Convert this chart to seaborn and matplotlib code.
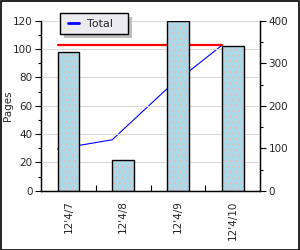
import numpy as np
import pandas as pd
import matplotlib
matplotlib.use("Agg")
import matplotlib.pyplot as plt
import seaborn as sns
from matplotlib.patches import Rectangle
from matplotlib.ticker import MultipleLocator, FixedLocator

# ---- data ----
dates = ["12'4/7", "12'4/8", "12'4/9", "12'4/10"]
pages = [98, 22, 120, 102]
series_label = "Total"
left_ticks = [0, 20, 40, 60, 80, 100, 120]
right_ticks = [0, 100, 200, 300, 400]

cumulative = np.cumsum(pages)
total = cumulative[-1]

sns.set_theme(style="white")
plt.rcParams["font.family"] = ["DejaVu Sans"]
plt.rcParams["hatch.linewidth"] = 0.6

W, H = 300, 250
fig = plt.figure(figsize=(3.0, 2.5), dpi=100)
fig.patch.set_facecolor("white")
fig.patches.append(Rectangle((0.002, 0.002), 0.993, 0.994, transform=fig.transFigure,
                             fill=False, ec="black", lw=1.2))

# host axes: lines (right scale); twin axes on top: bars (left scale)
axL = fig.add_axes([0.137, 0.237, 0.730, 0.680])
axB = axL.twinx()
axL.patch.set_facecolor("white")
axB.patch.set_visible(False)
axL.set_zorder(0)
axB.set_zorder(2)

bw = 0.4
xpos = np.arange(len(dates)) - bw / 2
line_df = pd.DataFrame({"x": xpos, "cum": cumulative})
sns.lineplot(data=line_df, x="x", y="cum", ax=axL, color="blue", lw=0.8, label=series_label)
axL.plot([xpos[0], xpos[-1]], [total, total], color="red", lw=1.6)
h, l = axL.get_legend_handles_labels()
if axL.get_legend():
    axL.get_legend().remove()

df = pd.DataFrame({"date": dates, "pages": pages})
sns.barplot(data=df, x="date", y="pages", ax=axB, color="#add8e6", saturation=1,
            width=bw, edgecolor="#eeb8b8", linewidth=0)
for p in list(axB.patches):
    p.set_hatch("...")
    p.set_edgecolor("#eeb8b8")
    axB.add_patch(Rectangle(p.get_xy(), p.get_width(), p.get_height(), fill=False,
                            ec="black", lw=1.0, zorder=3))

axB.set_xlim(-0.5, len(dates) - 0.5)
axB.set_ylim(0, 120)
axL.set_ylim(0, 400)

# bars' scale on the left, lines' scale on the right
axB.yaxis.set_label_position("left")
axB.yaxis.tick_left()
axL.yaxis.set_label_position("right")
axL.yaxis.tick_right()
axB.xaxis.set_visible(True)

axB.set_yticks(left_ticks)
axB.yaxis.set_minor_locator(MultipleLocator(10))
axL.set_yticks(right_ticks)
axL.yaxis.set_minor_locator(MultipleLocator(50))
axB.xaxis.set_minor_locator(FixedLocator([0.5, 1.5, 2.5]))
axL.tick_params(axis="x", which="both", bottom=False, labelbottom=False)

axB.grid(axis="y", color="#d8d8d8", lw=0.8)
axB.set_axisbelow(True)

fs = 7.5
axB.set_xlabel("")
axL.set_xlabel("")
axL.set_ylabel("")
axB.set_ylabel("Pages", fontsize=fs, labelpad=0)
axB.tick_params(axis="x", which="major", length=0, pad=7, labelsize=fs, labelrotation=90,
                labelbottom=True)
axB.tick_params(axis="x", which="minor", direction="in", length=4.3, width=0.8, color="black", bottom=True)
axB.tick_params(axis="y", which="major", direction="out", length=4, width=0.8, color="black",
                labelsize=fs, pad=2, left=True, right=False)
axB.tick_params(axis="y", which="minor", direction="out", length=2.5, width=0.8, color="black",
                left=True, right=False)
axL.tick_params(axis="y", which="major", direction="out", length=4, width=0.8, color="black",
                labelsize=fs, pad=2, right=True, left=False)
axL.tick_params(axis="y", which="minor", direction="out", length=2.5, width=0.8, color="black",
                right=True, left=False)

for a in (axL, axB):
    for s in ["left", "right", "bottom"]:
        a.spines[s].set_visible(True)
        a.spines[s].set_color("black")
        a.spines[s].set_linewidth(0.9)
    a.spines["top"].set_visible(False)

# legend box with drop shadow (figure-level so it sits above both axes)
fig.patches.append(Rectangle((64 / W, 1 - 38 / H), 68 / W, 21 / H, transform=fig.transFigure,
                             fc="#c0c0c0", ec="none", zorder=3))
fig.patches.append(Rectangle((60 / W, 1 - 34 / H), 68 / W, 21 / H, transform=fig.transFigure,
                             fc="#ecebf0", ec="black", lw=1.0, zorder=4))
leg = fig.legend(h, l, loc="center left", bbox_to_anchor=(68 / W, 1 - 24 / H),
                 bbox_transform=fig.transFigure, fontsize=8, frameon=False,
                 handlelength=0.95, borderpad=0, borderaxespad=0, handletextpad=0.75)
leg.set_zorder(5)
for ln in leg.get_lines():
    ln.set_linewidth(2.0)

fig.savefig("out.png", dpi=100)
